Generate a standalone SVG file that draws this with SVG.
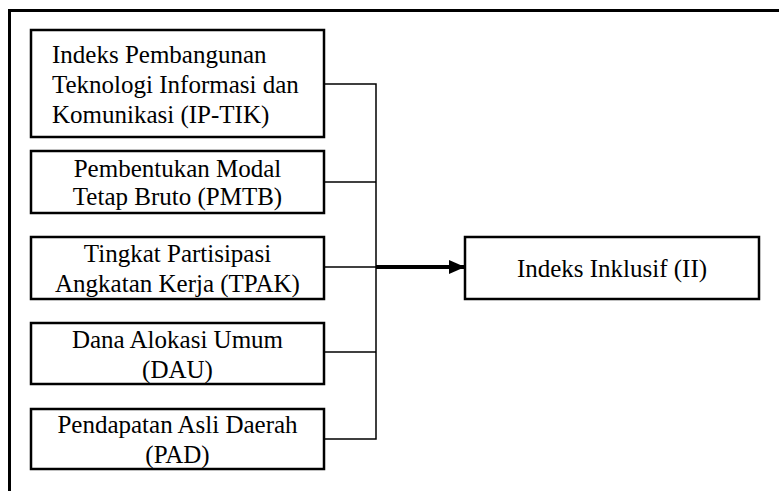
<svg xmlns="http://www.w3.org/2000/svg" width="779" height="491" viewBox="0 0 779 491">
<defs>
<marker id="ah" markerWidth="16" markerHeight="14" refX="16" refY="7" orient="auto" markerUnits="userSpaceOnUse">
<path d="M0,0 L16,7 L0,14 Z" fill="#000"/>
</marker>
</defs>
<rect x="9.5" y="10.5" width="780" height="490" fill="none" stroke="#000" stroke-width="3"/>
<g id="connectors" fill="none" stroke="#000" stroke-width="1.5">
<path d="M324,84 H376 V439 H324"/>
<path d="M324,182 H376"/>
<path d="M324,267 H376"/>
<path d="M324,352 H376"/>
<path d="M376,267 H465" stroke-width="4" marker-end="url(#ah)"/>
</g>
<g id="n1">
<rect x="31" y="30" width="293" height="107" fill="#fff" stroke="#000" stroke-width="2.5"/>
<text font-family="Liberation Serif" font-size="25" x="52" y="63">Indeks Pembangunan</text>
<text font-family="Liberation Serif" font-size="25" x="52" y="93">Teknologi Informasi dan</text>
<text font-family="Liberation Serif" font-size="25" x="52" y="123">Komunikasi (IP-TIK)</text>
</g>
<g id="n2">
<rect x="31" y="151" width="293" height="62" fill="#fff" stroke="#000" stroke-width="2.5"/>
<text font-family="Times New Roman" font-size="25" text-anchor="middle" x="177.5" y="177">Pembentukan Modal</text>
<text font-family="Times New Roman" font-size="25" text-anchor="middle" x="177.5" y="205">Tetap Bruto (PMTB)</text>
</g>
<g id="n3">
<rect x="31" y="237" width="293" height="62" fill="#fff" stroke="#000" stroke-width="2.5"/>
<text style="font-family:'Liberation Serif',serif;font-size:25px" text-anchor="middle" x="177.5" y="262">Tingkat Partisipasi</text>
<text style="font-family:'Liberation Serif',serif;font-size:25px" text-anchor="middle" x="177.5" y="292">Angkatan Kerja (TPAK)</text>
</g>
<g id="n4">
<rect x="31" y="323" width="293" height="61" fill="#fff" stroke="#000" stroke-width="2.5"/>
<text font-family="Tinos" font-size="25" text-anchor="middle" x="177.5" y="348">Dana Alokasi Umum</text>
<text font-family="Tinos" font-size="25" text-anchor="middle" x="177.5" y="378">(DAU)</text>
</g>
<g id="n5">
<rect x="31" y="409" width="293" height="60" fill="#fff" stroke="#000" stroke-width="2.5"/>
<text font-family="serif" font-size="25" text-anchor="middle" x="177.5" y="433">Pendapatan Asli Daerah</text>
<text font-family="serif" font-size="25" text-anchor="middle" x="177.5" y="463">(PAD)</text>
</g>
<rect x="465" y="237" width="294" height="62" fill="#fff" stroke="#000" stroke-width="2.5"/>
<text font-family="Liberation Serif" font-size="25" text-anchor="middle" x="612" y="277">Indeks Inklusif (II)</text>
</svg>
